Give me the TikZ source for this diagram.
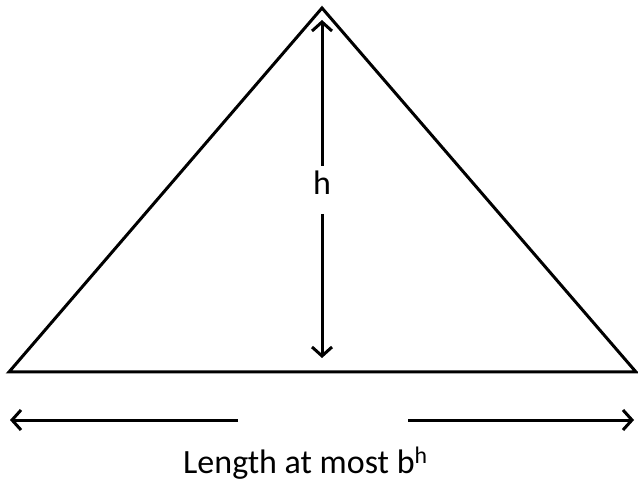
\documentclass[tikz,border=0pt]{standalone}
\usepackage{fontspec}
\setmainfont{Carlito}
\usetikzlibrary{arrows.meta}
\begin{document}
\begin{tikzpicture}[x=1pt,y=-1pt,
  edge/.style={line width=3pt, line join=miter},
  arr/.style={line width=3pt, -{Straight Barb[length=9pt,width=20pt,line width=3pt]}},
  lbl/.style={font=\fontsize{34}{40}\selectfont, inner sep=0pt}]
\useasboundingbox (0,0) rectangle (638,481);
\coordinate (apex) at (322,8);
\coordinate (bl) at (9,372);
\coordinate (br) at (636,372);
\draw[edge] (bl) -- (apex) -- (br) -- cycle;
\node[lbl, anchor=base] (h) at (322,195) {h};
\coordinate (htop) at (322,166);
\coordinate (hbot) at (322,214);
\coordinate (tiptop) at (322,20);
\coordinate (tipbot) at (322,358);
\draw[arr] (htop) -- (tiptop);
\draw[arr] (hbot) -- (tipbot);
\node[lbl, anchor=base west] (len) at (183,473) {Length at most b\textsuperscript{h}};
\coordinate (la) at (238,420);
\coordinate (lt) at (10,420);
\coordinate (ra) at (408,420);
\coordinate (rt) at (634,420);
\draw[arr] (la) -- (lt);
\draw[arr] (ra) -- (rt);
\end{tikzpicture}
\end{document}
